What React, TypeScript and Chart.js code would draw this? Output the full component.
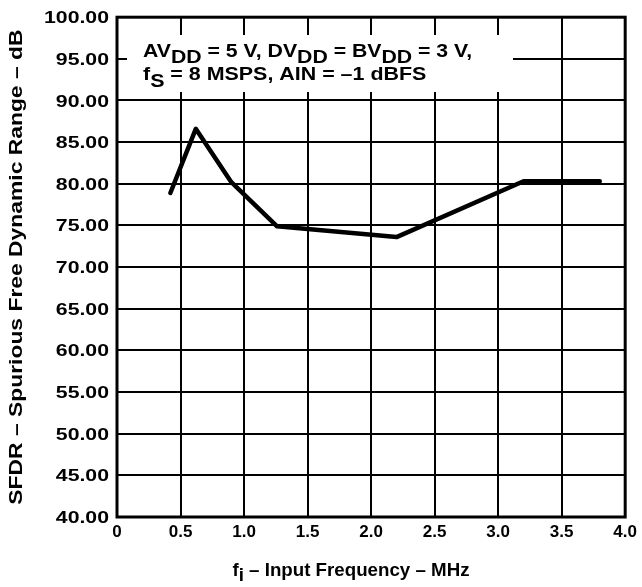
import React, { useEffect, useRef } from 'react';
import { Chart, registerables } from 'chart.js';

Chart.register(...registerables);

// ---- data ----
const freqMHz = [0.42, 0.62, 0.9, 1.26, 2.2, 3.2, 3.8];
const sfdrDb = [78.9, 86.6, 80.2, 74.9, 73.6, 80.3, 80.3];
const xTickValues = [0, 0.5, 1.0, 1.5, 2.0, 2.5, 3.0, 3.5, 4.0];
const yTickValues = [40, 45, 50, 55, 60, 65, 70, 75, 80, 85, 90, 95, 100];
const yTitleText = 'SFDR – Spurious Free Dynamic Range – dB';
type Seg = { t: string; sub?: boolean };
const xTitleSegs: Seg[] = [{ t: 'f' }, { t: 'i', sub: true }, { t: ' – Input Frequency – MHz' }];
const noteLine1: Seg[] = [
  { t: 'AV' }, { t: 'DD', sub: true }, { t: ' = 5 V, DV' }, { t: 'DD', sub: true },
  { t: ' = BV' }, { t: 'DD', sub: true }, { t: ' = 3 V,' },
];
const noteLine2: Seg[] = [{ t: 'f' }, { t: 'S', sub: true }, { t: ' = 8 MSPS, AIN = –1 dBFS' }];

const FONT = "'Liberation Sans', Arial, Helvetica, sans-serif";

// draws text segments (with subscripts), stretched horizontally by sx
function drawSegs(ctx: any, segs: Seg[], x: number, y: number, size: number, subOff: number, align: 'left' | 'center' | 'right', sx: number) {
  ctx.save();
  ctx.font = `bold ${size}px ${FONT}`;
  ctx.textBaseline = 'alphabetic';
  ctx.textAlign = 'left';
  let total = 0;
  for (const s of segs) total += ctx.measureText(s.t).width;
  const w = total * sx;
  const x0 = align === 'center' ? x - w / 2 : align === 'right' ? x - w : x;
  ctx.translate(x0, y);
  ctx.scale(sx, 1);
  let cx = 0;
  for (const s of segs) {
    ctx.fillText(s.t, cx, s.sub ? subOff : 0);
    cx += ctx.measureText(s.t).width;
  }
  ctx.restore();
}

const decorPlugin = {
  id: 'decor',
  beforeDatasetsDraw(chart: any) {
    const { ctx, chartArea } = chart;
    ctx.save();
    ctx.fillStyle = '#ffffff';
    ctx.fillRect(chartArea.left + 10, 35, 513 - (chartArea.left + 10), 57);
    ctx.fillStyle = '#000000';
    drawSegs(ctx, noteLine1, 143, 57, 18, 6, 'left', 1.18);
    drawSegs(ctx, noteLine2, 143, 80, 18, 7, 'left', 1.19);
    ctx.restore();
  },
  afterDraw(chart: any) {
    const { ctx, chartArea } = chart;
    ctx.save();
    ctx.strokeStyle = '#000000';
    ctx.lineWidth = 3;
    ctx.strokeRect(chartArea.left, chartArea.top, chartArea.right - chartArea.left, chartArea.bottom - chartArea.top);
    ctx.fillStyle = '#000000';

    // y tick labels, positioned through the y scale
    const ys = chart.scales.y;
    for (const t of ys.ticks) {
      const label = Number(t.value).toFixed(2);
      drawSegs(ctx, [{ t: label }], chartArea.left - 8, ys.getPixelForValue(t.value) + 6, 17, 0, 'right', 1.25);
    }

    drawSegs(ctx, xTitleSegs, 351, 576, 18, 5, 'center', 1.04);

    ctx.translate(22, (chartArea.top + chartArea.bottom) / 2);
    ctx.rotate(-Math.PI / 2);
    drawSegs(ctx, [{ t: yTitleText }], 0, 0, 18, 0, 'center', 1.27);
    ctx.restore();
  },
};

export default function App() {
  const ref = useRef<HTMLCanvasElement | null>(null);
  useEffect(() => {
    document.body.style.margin = '0';
    const canvas = ref.current;
    if (!canvas) return;
    const chart = new Chart(canvas, {
      type: 'line',
      data: {
        datasets: [
          {
            data: freqMHz.map((x, i) => ({ x, y: sfdrDb[i] })),
            borderColor: '#000000',
            borderWidth: 4.5,
            borderCapStyle: 'round',
            borderJoinStyle: 'round',
            pointRadius: 0,
            fill: false,
            tension: 0,
          },
        ],
      },
      options: {
        responsive: false,
        animation: false,
        devicePixelRatio: 1,
        layout: { padding: { top: 17, right: 14, left: 0, bottom: 0 } },
        plugins: { legend: { display: false }, tooltip: { enabled: false } },
        scales: {
          x: {
            type: 'linear',
            min: 0,
            max: 4,
            afterBuildTicks: (s: any) => { s.ticks = xTickValues.map((v) => ({ value: v })); },
            afterFit: (s: any) => { s.height = 70; },
            ticks: {
              callback: (v: any) => (Number(v) === 0 ? '0' : Number(v).toFixed(1)),
              font: { family: FONT, size: 17, weight: 'bold' },
              color: '#000000',
              padding: 5,
              maxRotation: 0,
              autoSkip: false,
            },
            grid: { color: '#000000', lineWidth: 2, drawTicks: false },
            border: { display: false },
          },
          y: {
            type: 'linear',
            min: 40,
            max: 100,
            afterBuildTicks: (s: any) => { s.ticks = yTickValues.map((v) => ({ value: v })); },
            afterFit: (s: any) => { s.width = 117; },
            ticks: {
              callback: (v: any) => Number(v).toFixed(2),
              font: { family: FONT, size: 17, weight: 'bold' },
              color: 'rgba(0,0,0,0)',
              padding: 7,
              autoSkip: false,
            },
            grid: { color: '#000000', lineWidth: 2, drawTicks: false },
            border: { display: false },
          },
        },
      },
      plugins: [decorPlugin],
    } as any);
    return () => chart.destroy();
  }, []);
  return (
    <div style={{ width: 642, height: 587, background: '#ffffff' }}>
      <canvas ref={ref} width={642} height={587} style={{ display: 'block' }} />
    </div>
  );
}
